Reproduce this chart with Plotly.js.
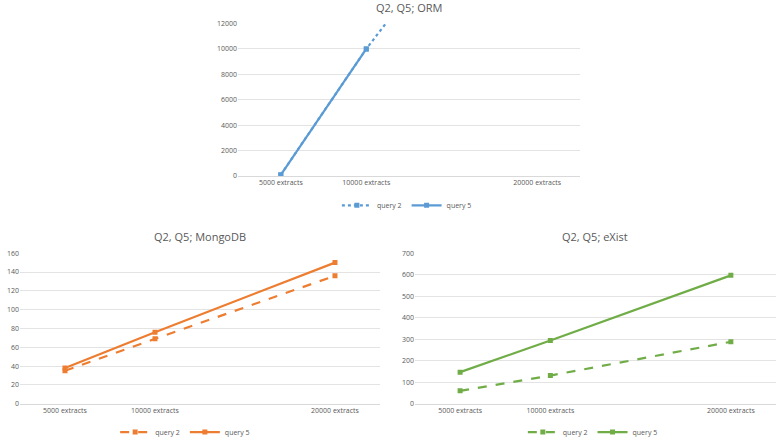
<!DOCTYPE html>
<html>
<head>
<meta charset="utf-8">
<script src="https://cdn.plot.ly/plotly-3.0.1.min.js"></script>
<style>html,body{margin:0;padding:0;background:#fff;}#chart{width:778px;height:447px;}</style>
</head>
<body>
<div id="chart"></div>
<script>
// Data
const extracts = [5000, 10000, 20000];
const tickLabels = ["5000 extracts", "10000 extracts", "20000 extracts"];
const ormQuery2 = [100, 10000, 27500];
const ormQuery5 = [80, 10000, null];
const mongoQuery2 = [35, 69, 136];
const mongoQuery5 = [38, 76, 150];
const existQuery2 = [60, 131, 288];
const existQuery5 = [147, 294, 597];

const blue = "#5B9BD5", orange = "#ED7D31", green = "#70AD47";
const font = "Open Sans, Liberation Sans, sans-serif";

function tr(y, name, color, dash, xa, ya, legend) {
  return {
    x: extracts, y: y, name: name, type: "scatter", mode: "lines+markers",
    line: {color: color, width: 2.2, dash: dash},
    marker: {symbol: "square", size: 5, color: color},
    xaxis: xa, yaxis: ya, legend: legend, connectgaps: false, cliponaxis: true
  };
}

const data = [
  tr(ormQuery2, "query 2", blue, "3px,3px", "x", "y", "legend"),
  tr(ormQuery5, "query 5", blue, "solid", "x", "y", "legend"),
  tr(mongoQuery2, "query 2", orange, "dash", "x2", "y2", "legend2"),
  tr(mongoQuery5, "query 5", orange, "solid", "x2", "y2", "legend2"),
  tr(existQuery2, "query 2", green, "dash", "x3", "y3", "legend3"),
  tr(existQuery5, "query 5", green, "solid", "x3", "y3", "legend3")
];

function xax(domain, anchor) {
  return {
    domain: domain, anchor: anchor, range: [2500, 22500],
    tickvals: extracts, ticktext: tickLabels,
    showgrid: false, zeroline: false, showline: true, linecolor: "#d9d9d9", linewidth: 1,
    ticks: "", tickfont: {family: font, size: 7, color: "#595959"}, fixedrange: true
  };
}
function yax(domain, anchor, range, dtick) {
  return {
    domain: domain, anchor: anchor, range: range, dtick: dtick, tickformat: "d",
    showgrid: true, gridcolor: "#e3e3e3", gridwidth: 1, zeroline: false, showline: false,
    ticks: "", tickfont: {family: font, size: 7, color: "#595959"}, fixedrange: true
  };
}
function leg(x, y) {
  return {
    x: x, y: y, xanchor: "center", yanchor: "middle", orientation: "h",
    font: {family: font, size: 7, color: "#595959"}, bgcolor: "rgba(0,0,0,0)",
    itemwidth: 30, tracegroupgap: 0
  };
}

const layout = {
  width: 778, height: 447,
  margin: {l: 0, r: 0, t: 0, b: 0},
  paper_bgcolor: "#fff", plot_bgcolor: "#fff",
  showlegend: true,
  xaxis: xax([0.306, 0.7455], "y"),
  yaxis: yax([0.5973, 0.9463], "x", [0, 12000], 2000),
  xaxis2: xax([0.0257, 0.4884], "y2"),
  yaxis2: yax([0.0761, 0.4206], "x2", [0, 160], 20),
  xaxis3: xax([0.5334, 0.9974], "y3"),
  yaxis3: yax([0.0761, 0.4206], "x3", [0, 700], 100),
  legend: leg(0.523, 1 - 210/447),
  legend2: leg(0.238, 1 - 442/447),
  legend3: leg(0.762, 1 - 442/447),
  annotations: [
    {text: "Q2, Q5; ORM", x: 0.5259, y: 1 - 8/447, xref: "paper", yref: "paper", showarrow: false,
     font: {family: font, size: 11, color: "#595959"}, xanchor: "center", yanchor: "middle"},
    {text: "Q2, Q5; MongoDB", x: 0.2571, y: 1 - 242/447, xref: "paper", yref: "paper", showarrow: false,
     font: {family: font, size: 11, color: "#595959"}, xanchor: "center", yanchor: "middle"},
    {text: "Q2, Q5; eXist", x: 0.7654, y: 1 - 242/447, xref: "paper", yref: "paper", showarrow: false,
     font: {family: font, size: 11, color: "#595959"}, xanchor: "center", yanchor: "middle"}
  ]
};

Plotly.newPlot("chart", data, layout, {displayModeBar: false, staticPlot: true});
</script>
</body>
</html>
